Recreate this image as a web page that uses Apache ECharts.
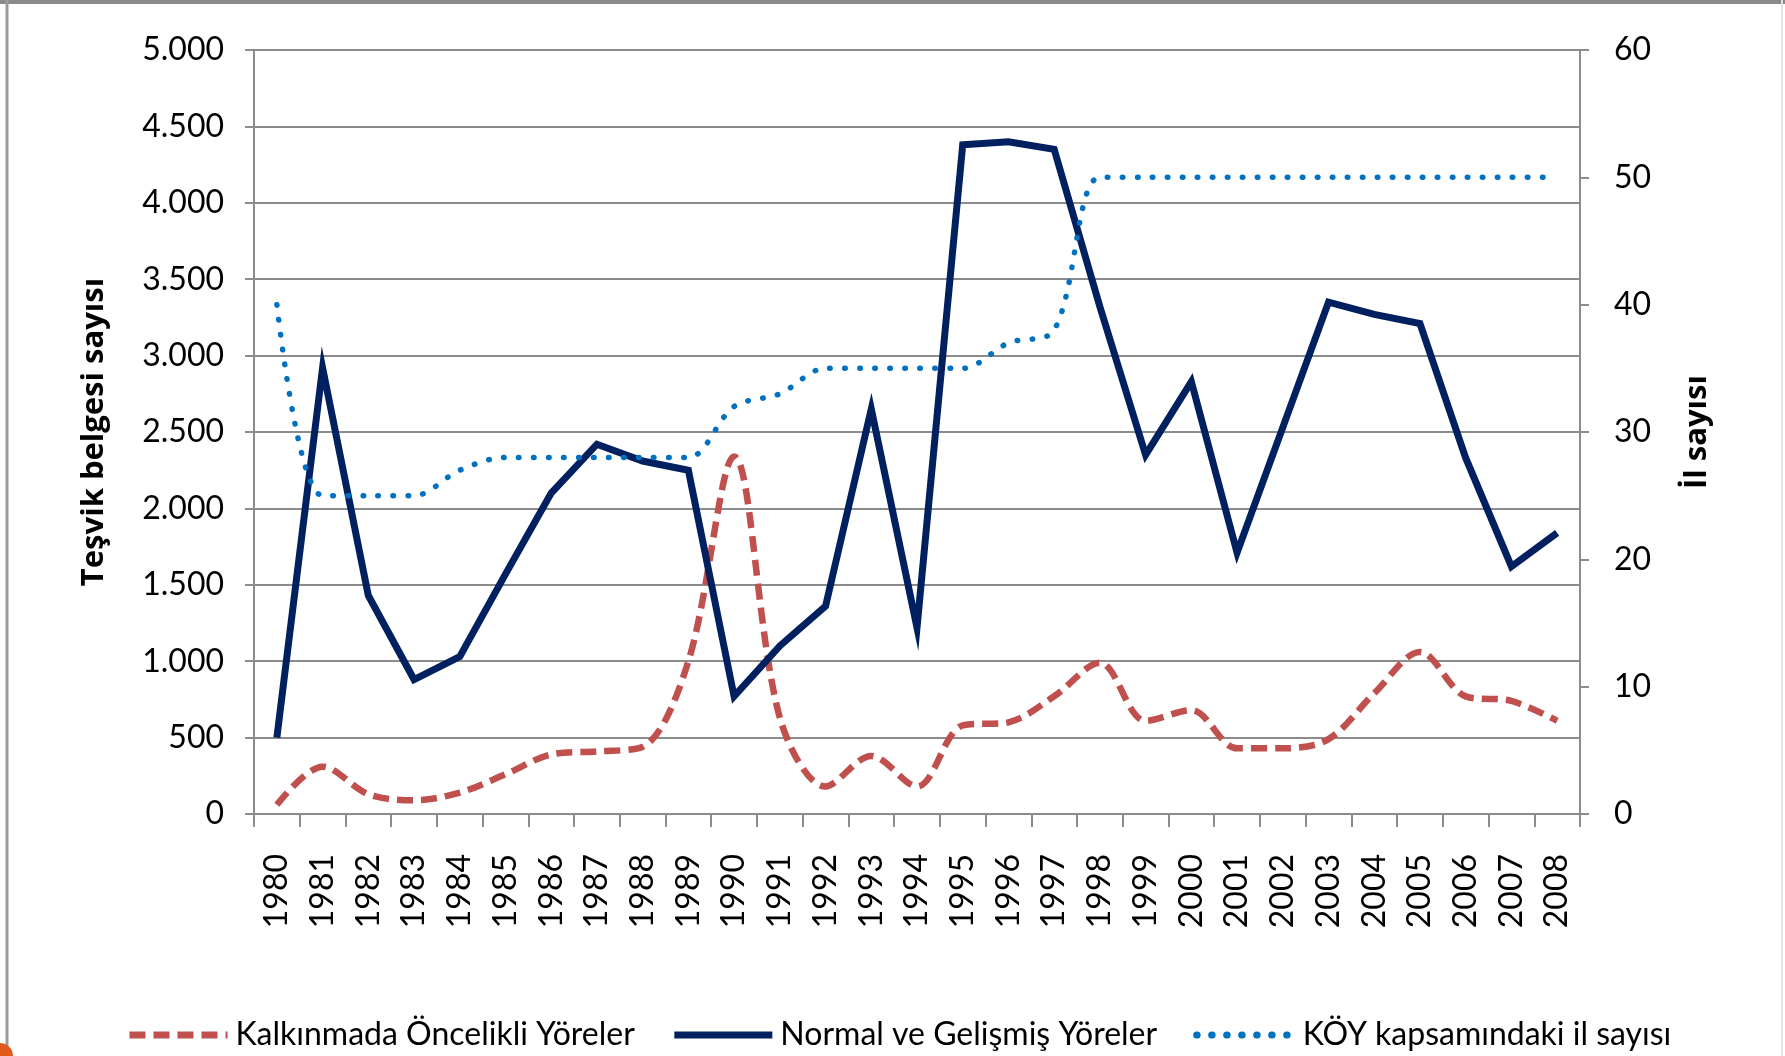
<!DOCTYPE html>
<html>
<head>
<meta charset="utf-8">
<style>
html,body{margin:0;padding:0;background:#fff;}
#chart{width:1785px;height:1056px;}
</style>
<script src="https://cdn.jsdelivr.net/npm/echarts@6/dist/echarts.min.js"></script>
</head>
<body>
<div id="chart"></div>
<script>
const years = ['1980','1981','1982','1983','1984','1985','1986','1987','1988','1989','1990','1991','1992','1993','1994','1995','1996','1997','1998','1999','2000','2001','2002','2003','2004','2005','2006','2007','2008'];
const kalkinma = [60, 310, 130, 90, 140, 260, 390, 410, 440, 1000, 2340, 630, 180, 380, 180, 580, 600, 770, 990, 610, 680, 430, 430, 490, 790, 1060, 770, 740, 610];
const normal = [500, 2920, 1430, 880, 1030, 1570, 2100, 2420, 2310, 2250, 770, 1100, 1360, 2650, 1220, 4380, 4400, 4350, 3320, 2350, 2830, 1710, 2530, 3350, 3270, 3210, 2330, 1620, 1840];
const koy = [40, 25, 25, 25, 27, 28, 28, 28, 28, 28, 32, 33, 35, 35, 35, 35, 37, 38, 50, 50, 50, 50, 50, 50, 50, 50, 50, 50, 50];
const seriesNames = ['Kalkınmada Öncelikli Yöreler', 'Normal ve Gelişmiş Yöreler', 'KÖY kapsamındaki il sayısı'];
const axisNames = ['Teşvik belgesi sayısı', 'İl sayısı'];

function fmt(v){
  if (v >= 1000) return Math.floor(v/1000) + '.' + String(v % 1000).padStart(3,'0');
  return String(v);
}
const gray = '#8c8c8c';
const tickFont = {fontFamily:'Lato', fontSize:32, color:'#000'};
const nameFont = {fontFamily:'Open Sans', fontWeight:'bold', fontSize:31, color:'#000'};
const chart = echarts.init(document.getElementById('chart'), null, {renderer:'canvas'});
chart.setOption({
  backgroundColor:'#fff',
  animation:false,
  grid:{left:254, right:205, top:50, bottom:242, containLabel:false},
  legend:{
    left:121, top:1014,
    itemWidth:98, itemHeight:14, itemGap:36,
    itemStyle:{opacity:0},
    lineStyle:{width:7},
    textStyle:{fontFamily:'Lato', fontSize:32, color:'#000', padding:[0,0,0,3]},
    data:seriesNames
  },
  xAxis:{
    type:'category', data:years, boundaryGap:true,
    axisLine:{lineStyle:{color:gray, width:2}},
    axisTick:{show:true, length:13, lineStyle:{color:gray, width:2}},
    axisLabel:Object.assign({rotate:90, margin:40, interval:0}, tickFont),
    splitLine:{show:false}
  },
  yAxis:[
    {type:'value', min:0, max:5000, interval:500,
     name:axisNames[0], nameLocation:'middle', nameGap:144, nameRotate:90,
     nameTextStyle:nameFont,
     axisLine:{show:true, lineStyle:{color:gray, width:2}},
     axisTick:{show:true, length:9, lineStyle:{color:gray, width:2}},
     axisLabel:Object.assign({margin:30, formatter:fmt}, tickFont),
     splitLine:{show:true, lineStyle:{color:gray, width:2}}},
    {type:'value', min:0, max:60, interval:10, position:'right',
     name:axisNames[1], nameLocation:'middle', nameGap:102, nameRotate:90,
     nameTextStyle:nameFont,
     axisLine:{show:true, lineStyle:{color:gray, width:2}},
     axisTick:{show:true, length:9, lineStyle:{color:gray, width:2}},
     axisLabel:Object.assign({margin:34}, tickFont),
     splitLine:{show:false}}
  ],
  series:[
    {name:seriesNames[0], type:'line', data:kalkinma, yAxisIndex:0, symbol:'none', smooth:0.33,
     color:'#C0504D',
     lineStyle:{color:'#C0504D', width:6.5, type:[16,8], cap:'butt'}},
    {name:seriesNames[1], type:'line', data:normal, yAxisIndex:0, symbol:'none',
     color:'#002060',
     lineStyle:{color:'#002060', width:7, type:'solid', join:'miter'}},
    {name:seriesNames[2], type:'line', data:koy, yAxisIndex:1, symbol:'none', smooth:0.33,
     color:'#0070C0',
     lineStyle:{color:'#0070C0', width:5.5, type:[0.5,14.5], cap:'round'}}
  ],
  graphic:[
    {type:'line', shape:{x1:0,y1:2,x2:1785,y2:2}, style:{stroke:'#8a8a8a', lineWidth:4}, silent:true},
    {type:'line', shape:{x1:7,y1:0,x2:7,y2:1056}, style:{stroke:'#9a9a9a', lineWidth:3}, silent:true},
    {type:'line', shape:{x1:1782,y1:0,x2:1782,y2:1056}, style:{stroke:'#e2e2e2', lineWidth:2}, silent:true},
    {type:'circle', shape:{cx:0, cy:1056, r:13}, style:{fill:'#E05A1C'}, silent:true}
  ]
});
</script>
</body>
</html>
